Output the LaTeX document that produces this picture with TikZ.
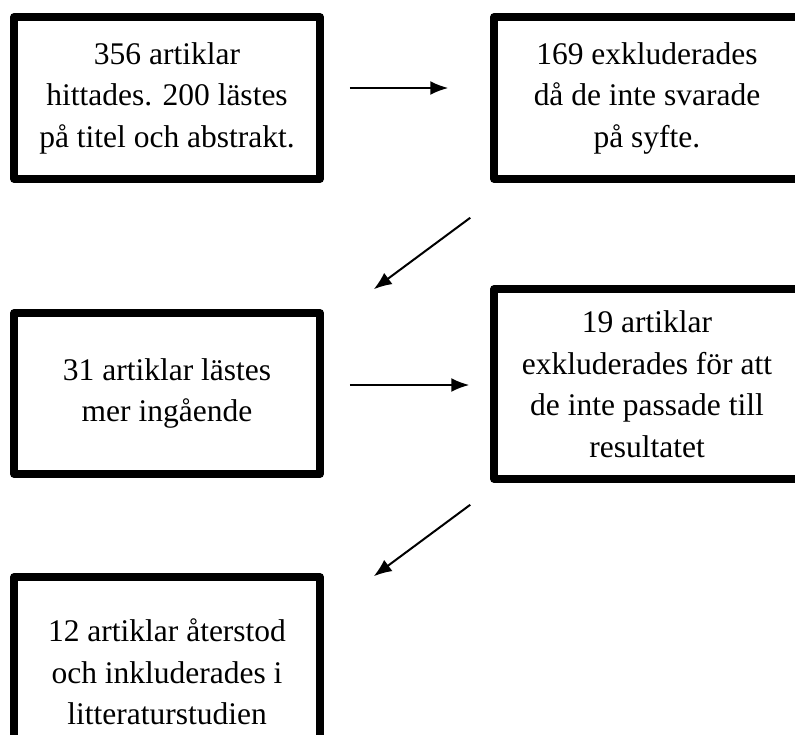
\documentclass[tikz,border=0pt]{standalone}
\usepackage{fontspec}
\setmainfont{Liberation Serif}
\usetikzlibrary{arrows.meta, shapes}

\begin{document}
\begin{tikzpicture}[x=1pt, y=-1pt]
    \tikzstyle{box}=[rectangle, draw, line width=7.5pt, line join=round, inner sep=0pt,
        minimum width=306pt, minimum height=162pt, align=center,
        font=\fontsize{31.5}{41.5}\selectfont]
    \tikzstyle{tall}=[box, minimum height=190pt]
    \tikzstyle{e}=[-{Latex[length=18pt,width=14pt]}, line width=2pt]

    \def\dx{480}

    \useasboundingbox (0,0) rectangle (795,734);

    \node[box] (A) at (167, 98) {356 artiklar\\hittades. 200 lästes\\på titel och abstrakt.};
    \node[box] (B) at (167+\dx, 98) {169 exkluderades\\då de inte svarade\\på syfte.};
    \node[box, minimum height=161pt] (C) at (167, 393.5) {31 artiklar lästes\\mer ingående};
    \node[tall] (D) at (167+\dx, 384) {19 artiklar\\exkluderades för att\\de inte passade till\\resultatet};
    \node[tall] (E) at (167, 672) {12 artiklar återstod\\och inkluderades i\\litteraturstudien};

    \draw[e, shorten <=26pt, shorten >=42pt] ([yshift=10pt]A.east) -- ([yshift=10pt]B.west);
    \draw[e] ([xshift=-20pt, yshift=-35pt]B.south west) -- ([xshift=50pt, yshift=20pt]C.north east);
    \draw[e, shorten <=26pt, shorten >=21pt] ([yshift=8.5pt]C.east) -- ([yshift=-1pt]D.west);
    \draw[e] ([xshift=-20pt, yshift=-22pt]D.south west) -- ([xshift=50pt, yshift=-3pt]E.north east);

\end{tikzpicture}
\end{document}
